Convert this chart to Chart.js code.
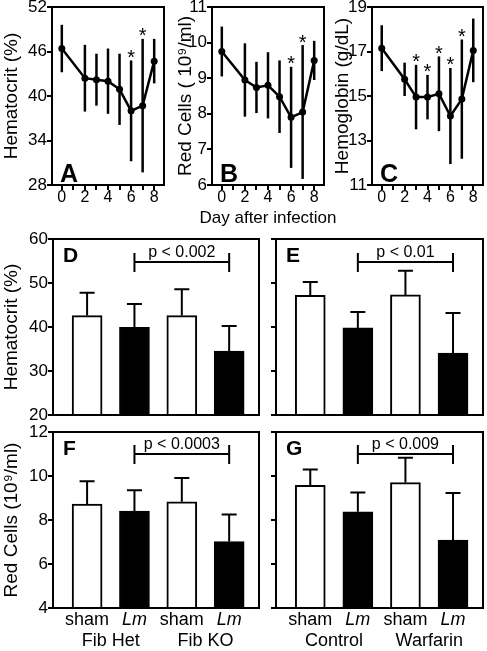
<!DOCTYPE html>
<html>
<head>
<meta charset="utf-8">
<script src="https://cdn.jsdelivr.net/npm/chart.js@4.4.1/dist/chart.umd.min.js"></script>
<style>
  html, body { margin: 0; padding: 0; background: #fff; }
  #wrap { position: relative; width: 487px; height: 651px; overflow: hidden; }
  #wrap canvas { position: absolute; left: 0; top: 0; }
</style>
</head>
<body>
<div id="wrap">
  <canvas id="panelA" width="487" height="651"></canvas>
  <canvas id="panelB" width="487" height="651"></canvas>
  <canvas id="panelC" width="487" height="651"></canvas>
  <canvas id="panelD" width="487" height="651"></canvas>
  <canvas id="panelE" width="487" height="651"></canvas>
  <canvas id="panelF" width="487" height="651"></canvas>
  <canvas id="panelG" width="487" height="651"></canvas>
</div>
<script>
// time course after infection (A-C)
const days = [0, 2, 3, 4, 5, 6, 7, 8];
const dayTicks = [0, 1, 2, 3, 4, 5, 6, 7, 8];
const hctMean = [46.4, 42.4, 42.2, 42.0, 40.9, 38.0, 38.7, 44.7];
const hctSd = [3.2, 4.5, 3.5, 4.4, 4.8, 6.8, 9.0, 3.0];
const hctStars = [6, 7];
const rbcMean = [9.75, 8.95, 8.74, 8.8, 8.48, 7.9, 8.05, 9.5];
const rbcSd = [0.7, 1.03, 0.72, 0.93, 1.02, 1.42, 1.88, 0.55];
const rbcStars = [6, 7];
const hgbMean = [17.15, 15.75, 14.95, 14.95, 15.1, 14.1, 14.86, 17.05];
const hgbSd = [1.03, 0.75, 1.45, 1.0, 1.68, 2.16, 2.68, 1.43];
const hgbStars = [3, 4, 5, 6, 7];

// bar panels (D-G)
const groups = ["sham", "Lm", "sham", "Lm"];
const fibNames = ["Fib Het", "Fib KO"];
const warfNames = ["Control", "Warfarin"];
const fibHct = [42.6, 39.9, 42.6, 34.5];
const fibHctSd = [5.2, 5.3, 6.0, 5.7];
const warfHct = [47.2, 39.8, 47.3, 34.1];
const warfHctSd = [3.0, 3.6, 5.5, 9.1];
const fibRbc = [8.72, 8.4, 8.83, 7.02];
const fibRbcSd = [1.04, 0.95, 1.08, 1.23];
const warfRbc = [9.58, 8.37, 9.7, 7.09];
const warfRbcSd = [0.71, 0.88, 1.13, 2.14];
const pLabels = ["p < 0.002", "p < 0.01", "p < 0.0003", "p < 0.009"];

const PAGE_W = 487;
const PAGE_H = 651;
const FONT = "'Liberation Sans', Arial, Helvetica, sans-serif";

Chart.defaults.font.family = FONT;
Chart.defaults.color = "#000";

const pad = (box, yw, xh) => ({
  left: box.l - yw,
  top: box.t,
  right: PAGE_W - box.r,
  bottom: PAGE_H - box.b - xh,
});

const fixWidth = (w) => (s) => {
  s.width = w;
  s.paddingTop = s.paddingBottom = s.paddingLeft = s.paddingRight = 0;
};
const fixHeight = (h) => (s) => {
  s.height = h;
  s.paddingTop = s.paddingBottom = s.paddingLeft = s.paddingRight = 0;
};

const yAxis = ({ min, max, step, width, title, labels }) => ({
  min,
  max,
  afterFit: fixWidth(width),
  border: { display: false },
  grid: { drawOnChartArea: false, tickLength: 5, lineWidth: 2, color: "#000" },
  ticks: { stepSize: step, display: labels, padding: 0, font: { size: 17 } },
  title: { display: !!title, text: title, padding: 0, font: { size: 19 } },
});

const timeDecor = (mean, sd, stars, letter, xTitle) => ({
  id: "decor",
  afterDatasetsDraw(chart) {
    const { ctx, chartArea: a, scales } = chart;
    const { x, y } = scales;
    ctx.save();
    ctx.strokeStyle = "#000";
    ctx.fillStyle = "#000";
    ctx.lineWidth = 2.5;
    days.forEach((d, i) => {
      const px = x.getPixelForValue(d);
      ctx.beginPath();
      ctx.moveTo(px, y.getPixelForValue(mean[i] - sd[i]));
      ctx.lineTo(px, y.getPixelForValue(mean[i] + sd[i]));
      ctx.stroke();
    });
    ctx.font = "20px " + FONT;
    ctx.textAlign = "center";
    stars.forEach((d) => {
      const i = days.indexOf(d);
      ctx.fillText("*", x.getPixelForValue(d), y.getPixelForValue(mean[i] + sd[i]) + 3.5);
    });
    if (xTitle) {
      ctx.font = "17px " + FONT;
      ctx.fillText(xTitle, (a.left + a.right) / 2, a.bottom + 38);
    }
    ctx.font = "bold 25px " + FONT;
    ctx.textAlign = "left";
    ctx.fillText(letter, a.left + 8, a.bottom - 3);
    ctx.lineWidth = 2;
    ctx.strokeRect(a.left, a.top, a.right - a.left, a.bottom - a.top);
    ctx.restore();
  },
});

function timePanel(id, box, yw, mean, sd, stars, yOpts, letter, xTitle) {
  new Chart(document.getElementById(id), {
    type: "line",
    data: {
      datasets: [
        {
          data: days.map((d, i) => ({ x: d, y: mean[i] })),
          borderColor: "#000",
          borderWidth: 2.5,
          pointRadius: 3.5,
          pointBackgroundColor: "#000",
          pointBorderWidth: 0,
        },
      ],
    },
    options: {
      responsive: false,
      animation: false,
      events: [],
      layout: { padding: pad(box, yw, 41) },
      plugins: { legend: { display: false }, tooltip: { enabled: false } },
      scales: {
        x: {
          type: "linear",
          min: -0.85,
          max: 8.85,
          afterFit: fixHeight(41),
          afterBuildTicks: (s) => {
            s.ticks = dayTicks.map((v) => ({ value: v }));
          },
          border: { display: false },
          grid: { drawOnChartArea: false, tickLength: 5, lineWidth: 2, color: "#000" },
          ticks: {
            autoSkip: false,
            maxRotation: 0,
            padding: -2,
            font: { size: 16 },
            callback: (v) => (v % 2 === 0 ? String(v) : ""),
          },
        },
        y: yAxis({ ...yOpts, width: yw, labels: true }),
      },
    },
    plugins: [timeDecor(mean, sd, stars, letter, xTitle)],
  });
}

const barDecor = (vals, sd, letter, pText, pLevel, names) => ({
  id: "decor",
  afterDatasetsDraw(chart) {
    const { ctx, chartArea: a, scales } = chart;
    const { x, y } = scales;
    ctx.save();
    ctx.strokeStyle = "#000";
    ctx.fillStyle = "#000";
    ctx.lineWidth = 2;
    vals.forEach((v, i) => {
      const px = x.getPixelForValue(i);
      const top = y.getPixelForValue(v + sd[i]);
      ctx.beginPath();
      ctx.moveTo(px, y.getPixelForValue(v));
      ctx.lineTo(px, top);
      ctx.moveTo(px - 7.5, top);
      ctx.lineTo(px + 7.5, top);
      ctx.stroke();
    });

    // bracket between the two infected groups
    const x1 = x.getPixelForValue(1);
    const x2 = x.getPixelForValue(3);
    const by = y.getPixelForValue(pLevel);
    ctx.beginPath();
    ctx.moveTo(x1, by - 9);
    ctx.lineTo(x1, by + 10);
    ctx.moveTo(x1, by);
    ctx.lineTo(x2, by);
    ctx.moveTo(x2, by - 9);
    ctx.lineTo(x2, by + 10);
    ctx.stroke();
    ctx.font = "16px " + FONT;
    ctx.textAlign = "center";
    ctx.fillText(pText, (x1 + x2) / 2, by - 5);

    if (names) {
      ctx.font = "18px " + FONT;
      names.forEach((n, k) => {
        ctx.fillText(n, x.getPixelForValue(2 * k + 0.5), a.bottom + 38);
      });
    }

    ctx.font = "bold 21px " + FONT;
    ctx.textAlign = "left";
    ctx.fillText(letter, a.left + 10, a.top + 23);
    ctx.lineWidth = 2;
    ctx.strokeRect(a.left, a.top, a.right - a.left, a.bottom - a.top);
    ctx.restore();
  },
});

function barPanel(id, box, yw, vals, sd, yOpts, labels, letter, pText, pLevel, names) {
  const xh = names ? 43 : 0;
  new Chart(document.getElementById(id), {
    type: "bar",
    data: {
      datasets: [
        {
          data: groups.map((g, i) => ({ x: i, y: vals[i] })),
          backgroundColor: groups.map((g) => (g === "Lm" ? "#000" : "#fff")),
          borderColor: "#000",
          borderWidth: 2,
          barThickness: 30,
          base: yOpts.min,
        },
      ],
    },
    options: {
      responsive: false,
      animation: false,
      events: [],
      layout: { padding: pad(box, yw, xh) },
      plugins: { legend: { display: false }, tooltip: { enabled: false } },
      scales: {
        x: {
          type: "linear",
          display: !!names,
          offset: false,
          min: -0.72,
          max: 3.63,
          afterFit: fixHeight(xh),
          afterBuildTicks: (s) => {
            s.ticks = groups.map((g, i) => ({ value: i }));
          },
          border: { display: false },
          grid: { display: false, drawTicks: false, offset: false },
          ticks: {
            autoSkip: false,
            maxRotation: 0,
            padding: 1,
            callback: (v) => groups[v],
            font: (c) => ({ size: 18, style: groups[c.index] === "Lm" ? "italic" : "normal" }),
          },
        },
        y: yAxis({ ...yOpts, width: yw, labels }),
      },
    },
    plugins: [barDecor(vals, sd, letter, pText, pLevel, names)],
  });
}

timePanel("panelA", { l: 52, t: 7, r: 164, b: 185 }, 52, hctMean, hctSd, hctStars,
  { min: 28, max: 52, step: 6, title: "Hematocrit (%)" }, "A");
timePanel("panelB", { l: 212, t: 7, r: 324, b: 185 }, 38, rbcMean, rbcSd, rbcStars,
  { min: 6, max: 11, step: 1, title: "Red Cells ( 10\u2079/ml)" }, "B", "Day after infection");
timePanel("panelC", { l: 372, t: 7, r: 484, b: 185 }, 41, hgbMean, hgbSd, hgbStars,
  { min: 11, max: 19, step: 2, title: "Hemoglobin (g/dL)" }, "C");

barPanel("panelD", { l: 53, t: 239, r: 259, b: 415 }, 53, fibHct, fibHctSd,
  { min: 20, max: 60, step: 10, title: "Hematocrit (%)" }, true, "D", pLabels[0], 54.8);
barPanel("panelE", { l: 276, t: 239, r: 483, b: 415 }, 6, warfHct, warfHctSd,
  { min: 20, max: 60, step: 10 }, false, "E", pLabels[1], 54.8);
barPanel("panelF", { l: 53, t: 432, r: 259, b: 608 }, 53, fibRbc, fibRbcSd,
  { min: 4, max: 12, step: 2, title: "Red Cells (10\u2079/ml)" }, true, "F", pLabels[2], 11.0, fibNames);
barPanel("panelG", { l: 276, t: 432, r: 483, b: 608 }, 6, warfRbc, warfRbcSd,
  { min: 4, max: 12, step: 2 }, false, "G", pLabels[3], 11.0, warfNames);
</script>
</body>
</html>
